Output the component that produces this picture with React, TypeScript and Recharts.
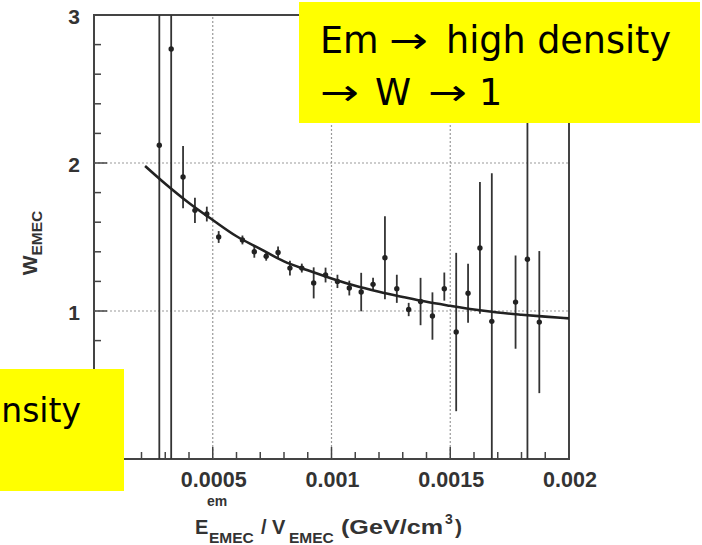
import React from 'react';
import {
  ComposedChart,
  Line,
  Scatter,
  XAxis,
  YAxis,
  ErrorBar,
  ReferenceLine,
  ReferenceArea,
} from 'recharts';

// ---- data ----
const binX = [
  0.000275, 0.000325, 0.000375, 0.000425, 0.000475, 0.000525, 0.000625, 0.000675,
  0.000725, 0.000775, 0.000825, 0.000875, 0.000925, 0.000975, 0.001025, 0.001075,
  0.001125, 0.001175, 0.001225, 0.001275, 0.001325, 0.001375, 0.001425, 0.001475,
  0.001525, 0.001575, 0.001625, 0.001675, 0.001775, 0.001825, 0.001875,
];
const binW = [
  2.12, 2.77, 1.905, 1.68, 1.655, 1.5, 1.48, 1.4,
  1.37, 1.395, 1.29, 1.29, 1.19, 1.243, 1.2, 1.155,
  1.128, 1.18, 1.36, 1.15, 1.01, 1.064, 0.966, 1.15,
  0.858, 1.12, 1.426, 0.93, 1.06, 1.35, 0.925,
];
// visible lower / upper extent of each error bar (bars leaving the frame end at it)
const binErrLow = [
  2.12, 2.77, 0.21, 0.085, 0.05, 0.04, 0.03, 0.04,
  0.03, 0.04, 0.05, 0.03, 0.105, 0.05, 0.045, 0.05,
  0.13, 0.045, 0.28, 0.095, 0.045, 0.16, 0.16, 0.08,
  0.535, 0.2, 0.445, 0.93, 0.315, 1.35, 0.48,
];
const binErrHigh = [
  0.88, 0.23, 0.21, 0.085, 0.05, 0.04, 0.03, 0.04,
  0.03, 0.04, 0.05, 0.03, 0.105, 0.05, 0.045, 0.05,
  0.13, 0.045, 0.28, 0.095, 0.045, 0.16, 0.16, 0.11,
  0.535, 0.2, 0.445, 1.0, 0.315, 1.65, 0.48,
];
const fitX = [
  0.000215, 0.0003, 0.0004, 0.0005, 0.0006, 0.0007, 0.0008, 0.0009, 0.001, 0.0011,
  0.0012, 0.0013, 0.0014, 0.0015, 0.0016, 0.0017, 0.0018, 0.0019, 0.002,
];
const fitW = [
  1.98, 1.86, 1.73, 1.615, 1.505, 1.42, 1.335, 1.275, 1.22, 1.17,
  1.13, 1.095, 1.062, 1.035, 1.01, 0.99, 0.975, 0.962, 0.95,
];

const xMajorTicks = [0, 0.0005, 0.001, 0.0015, 0.002];
const xMajorLabels = ['0', '0.0005', '0.001', '0.0015', '0.002'];
const xMinorTicks = [
  0.0001, 0.0002, 0.0003, 0.0004, 0.0006, 0.0007, 0.0008, 0.0009,
  0.0011, 0.0012, 0.0013, 0.0014, 0.0016, 0.0017, 0.0018, 0.0019,
];
const yMajorTicks = [0, 1, 2, 3];
const yMajorLabels = ['0', '1', '2', '3'];
const yMinorTicks = [0.2, 0.4, 0.6, 0.8, 1.2, 1.4, 1.6, 1.8, 2.2, 2.4, 2.6, 2.8];
const xGridValues = [0.0005, 0.001, 0.0015];
const yGridValues = [1, 2];

const ARROW = '\u2192';
const noteBottom = 'nsity';

// ---- derived tables ----
const points = binX.map((x, i) => ({ x, w: binW[i], err: [binErrLow[i], binErrHigh[i]] }));
const fit = fitX.map((x, i) => ({ x, w: fitW[i] }));
const xTicks = [...xMajorTicks, ...xMinorTicks].sort((a, b) => a - b);
const yTicks = [...yMajorTicks, ...yMinorTicks].sort((a, b) => a - b);

const findLabel = (v: number, majors: number[], labels: string[], tol: number) => {
  const i = majors.findIndex((m) => Math.abs(m - v) < tol);
  return i >= 0 ? labels[i] : null;
};

const AXIS_FONT = '"Liberation Sans", Arial, Helvetica, sans-serif';
const NOTE_FONT = '"DejaVu Sans", sans-serif';
const TICK_COLOR = '#444';
const LABEL_COLOR = '#333';

const XTick = (props: any) => {
  const { x, y, payload } = props;
  const label = findLabel(payload.value, xMajorTicks, xMajorLabels, 1e-8);
  const len = label !== null ? 12 : 7;
  return (
    <g>
      <line x1={x} x2={x} y1={y} y2={y - len} stroke={TICK_COLOR} strokeWidth={1.5} />
      {label !== null && (
        <text
          x={x + 1}
          y={y + 28}
          textAnchor="middle"
          fontFamily={AXIS_FONT}
          fontWeight="bold"
          fontSize={21.5}
          fill={LABEL_COLOR}
        >
          {label}
        </text>
      )}
    </g>
  );
};

const YTick = (props: any) => {
  const { x, y, payload } = props;
  const label = findLabel(payload.value, yMajorTicks, yMajorLabels, 1e-6);
  const len = label !== null ? 13 : 7;
  return (
    <g>
      <line x1={x} x2={x + len} y1={y} y2={y} stroke={TICK_COLOR} strokeWidth={1.5} />
      {label !== null && (
        <text
          x={x - 14}
          y={y + 8.5}
          textAnchor="end"
          fontFamily={AXIS_FONT}
          fontWeight="bold"
          fontSize={21}
          fill={LABEL_COLOR}
        >
          {label}
        </text>
      )}
    </g>
  );
};

const YTitle = (props: any) => {
  const vb = props.viewBox || { x: 0, y: 15, width: 94, height: 444 };
  const cx = vb.x + 37;
  const cy = vb.y + vb.height / 2 + 6;
  return (
    <text
      transform={`rotate(-90, ${cx}, ${cy})`}
      x={cx}
      y={cy}
      textAnchor="middle"
      fontFamily={AXIS_FONT}
      fontWeight="bold"
      fontSize={21}
      fill={LABEL_COLOR}
    >
      W
      <tspan fontSize={15.5} dy={5}>
        EMEC
      </tspan>
    </text>
  );
};

const XTitle = (props: any) => {
  const vb = props.viewBox || { x: 94, y: 459, width: 475, height: 86 };
  const bx = vb.x + 101;
  const by = vb.y + 75;
  const common = { fontFamily: AXIS_FONT, fontWeight: 'bold', fill: LABEL_COLOR } as any;
  return (
    <g>
      <text x={bx} y={by} fontSize={20} {...common}>E</text>
      <text x={bx + 12} y={by - 28} fontSize={14} {...common}>em</text>
      <text x={bx + 14} y={by + 9} fontSize={15.5} {...common}>EMEC</text>
      <text x={bx + 66} y={by} fontSize={20} {...common}>/ V</text>
      <text x={bx + 94} y={by + 9} fontSize={15.5} {...common}>EMEC</text>
      <text
        x={bx + 146}
        y={by}
        fontSize={21}
        textLength={102}
        lengthAdjust="spacingAndGlyphs"
        {...common}
      >
        (GeV/cm
      </text>
      <text x={bx + 250} y={by - 10} fontSize={14} {...common}>3</text>
      <text x={bx + 260} y={by} fontSize={21} {...common}>)</text>
    </g>
  );
};

const Marker = (props: any) => {
  const { cx, cy } = props;
  if (cx == null || cy == null) return null;
  return <circle cx={cx} cy={cy} r={2.7} fill="#222" />;
};

const Arrow = ({ x, y }: { x: number; y: number }) => (
  <text x={x} y={y} fontFamily={NOTE_FONT} fontSize={36.5} fill="#000" textLength={39} lengthAdjust="spacingAndGlyphs">
    {ARROW}
  </text>
);

export default function App() {
  return (
    <div style={{ position: 'absolute', left: 0, top: 0, width: 702, height: 545, background: '#fff' }}>
      <ComposedChart
        width={702}
        height={545}
        margin={{ top: 15, right: 133, bottom: 0, left: 0 }}
      >
        <XAxis
          type="number"
          dataKey="x"
          domain={[0, 0.002]}
          allowDataOverflow
          ticks={xTicks}
          interval={0}
          tick={<XTick />}
          tickLine={false}
          axisLine={false}
          tickSize={0}
          tickMargin={0}
          height={86}
          label={<XTitle />}
        />
        <YAxis
          type="number"
          dataKey="w"
          domain={[0, 3]}
          allowDataOverflow
          ticks={yTicks}
          interval={0}
          tick={<YTick />}
          tickLine={false}
          axisLine={false}
          tickSize={0}
          tickMargin={0}
          width={94}
          label={<YTitle />}
        />
        {xGridValues.map((v) => (
          <ReferenceLine key={'gx' + v} x={v} stroke="#999" strokeDasharray="2 2" strokeWidth={1.2} />
        ))}
        {yGridValues.map((v) => (
          <ReferenceLine key={'gy' + v} y={v} stroke="#999" strokeDasharray="2 2" strokeWidth={1.2} />
        ))}
        <ReferenceArea x1={0} x2={0.002} y1={0} y2={3} fill="none" stroke="#444" strokeWidth={2} />
        <Scatter data={points} dataKey="w" shape={<Marker />} isAnimationActive={false}>
          <ErrorBar dataKey="err" direction="y" width={0} stroke="#333" strokeWidth={1.8} isAnimationActive={false} />
        </Scatter>
        <Line
          data={fit}
          dataKey="w"
          type="monotone"
          stroke="#222"
          strokeWidth={2.6}
          dot={false}
          activeDot={false}
          isAnimationActive={false}
        />
      </ComposedChart>
      <svg
        width={702}
        height={545}
        style={{ position: 'absolute', left: 0, top: 0, pointerEvents: 'none' }}
      >
        <defs>
          <clipPath id="noteBottomClip">
            <rect x={0} y={369} width={124} height={122} />
          </clipPath>
        </defs>
        <rect x={299} y={2} width={401} height={121} fill="#ffff00" />
        <text x={320} y={53} fontFamily={NOTE_FONT} fontSize={36.5} fill="#000">Em</text>
        <Arrow x={389} y={53} />
        <text x={446} y={53} fontFamily={NOTE_FONT} fontSize={36.5} fill="#000">high density</text>
        <Arrow x={320} y={105} />
        <text x={375} y={105} fontFamily={NOTE_FONT} fontSize={36.5} fill="#000">W</text>
        <Arrow x={428} y={105} />
        <text x={479} y={105} fontFamily={NOTE_FONT} fontSize={36.5} fill="#000">1</text>
        <rect x={0} y={369} width={124} height={122} fill="#ffff00" />
        <g clipPath="url(#noteBottomClip)">
          <text x={81} y={422} textAnchor="end" fontFamily={NOTE_FONT} fontSize={33} fill="#000">
            {noteBottom}
          </text>
        </g>
      </svg>
    </div>
  );
}
